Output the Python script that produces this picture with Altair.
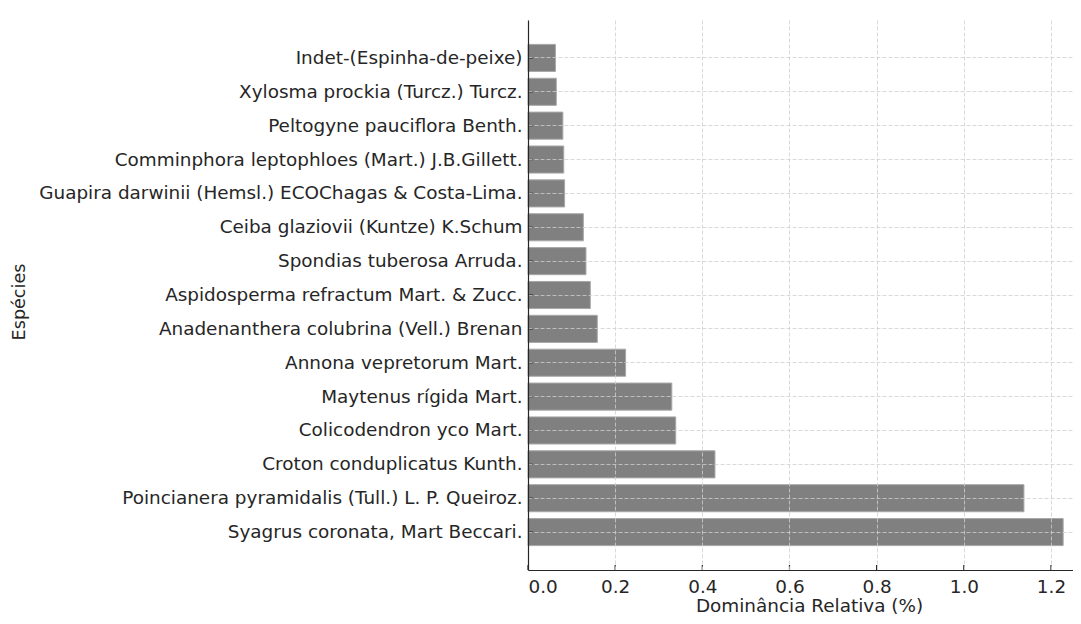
import altair as alt
import pandas as pd

species = [
    "Indet-(Espinha-de-peixe)",
    "Xylosma prockia (Turcz.) Turcz.",
    "Peltogyne pauciflora Benth.",
    "Comminphora leptophloes (Mart.) J.B.Gillett.",
    "Guapira darwinii (Hemsl.) ECOChagas & Costa-Lima.",
    "Ceiba glaziovii (Kuntze) K.Schum",
    "Spondias tuberosa Arruda.",
    "Aspidosperma refractum Mart. & Zucc.",
    "Anadenanthera colubrina (Vell.) Brenan",
    "Annona vepretorum Mart.",
    "Maytenus rígida Mart.",
    "Colicodendron yco Mart.",
    "Croton conduplicatus Kunth.",
    "Poincianera pyramidalis (Tull.) L. P. Queiroz.",
    "Syagrus coronata, Mart Beccari.",
]
values = [0.063, 0.065, 0.080, 0.082, 0.084, 0.127, 0.133, 0.143, 0.159,
          0.224, 0.330, 0.339, 0.429, 1.138, 1.228]
x_ticks = [0.0, 0.2, 0.4, 0.6, 0.8, 1.0, 1.2]

df = pd.DataFrame({"Espécie": species, "Dominância": values})
ticks_df = pd.DataFrame({"Dominância": x_ticks})

FONT = "DejaVu Sans"
DARK = "#262626"
FS = 18.4
W, H = 545, 550
XMAX = W / 435.8

x_scale = alt.Scale(domain=[0, XMAX], nice=False, zero=True)
y_scale = alt.Scale(paddingInner=0.2, paddingOuter=0.72)

bars = alt.Chart(df).mark_bar(color="#808080", stroke="#a8a8a8", strokeWidth=1).encode(
    x=alt.X("Dominância:Q", scale=x_scale,
            axis=alt.Axis(values=x_ticks, format=".1f", title="Dominância Relativa (%)",
                          grid=True, ticks=False, labelPadding=7,
                          titleX=281, titleY=26.5, titleBaseline="top", zindex=1)),
    y=alt.Y("Espécie:N", sort=species, scale=y_scale,
            axis=alt.Axis(title="Espécies", ticks=False, labelPadding=6, grid=True,
                          bandPosition=0.5, titleAngle=270, titleX=-503.5, titleY=281.5,
                          titleBaseline="alphabetic", titleAlign="center", zindex=1,
                          titleFontSize=17.6, labelLimit=1000)),
)

y_tick_marks = alt.Chart(df).mark_rule(color=DARK, strokeWidth=1.2).encode(
    y=alt.Y("Espécie:N", sort=species),
    x=alt.value(0),
    x2=alt.value(5),
)

x_tick_marks = alt.Chart(ticks_df).mark_rule(color=DARK, strokeWidth=1.2).encode(
    x=alt.X("Dominância:Q"),
    y=alt.value(H),
    y2=alt.value(H - 5),
)

chart = alt.layer(bars, y_tick_marks, x_tick_marks).properties(
    width=W, height=H, autosize="none",
    padding={"left": 520, "top": 12, "right": 0, "bottom": 46},
).configure_view(stroke=None).configure_axis(
    labelFont=FONT, labelFontSize=FS, labelColor=DARK,
    titleFont=FONT, titleFontSize=FS, titleColor=DARK, titleFontWeight="normal",
    domainColor=DARK, domainWidth=1.2,
    gridColor="#cfcfcf", gridDash=[4, 2], gridWidth=0.8,
)

chart.save("out.html", embed_options={"renderer": "svg", "actions": False})
